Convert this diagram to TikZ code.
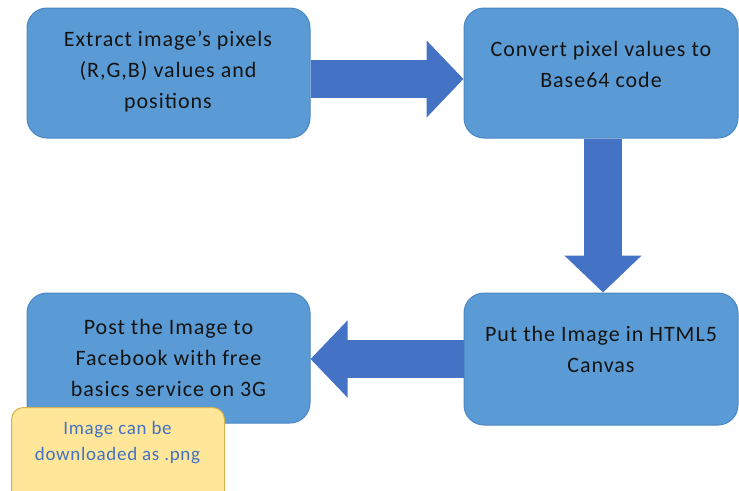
\documentclass[tikz,border=0pt]{standalone}
\usepackage{fontspec}
\setmainfont{Carlito}
\newfontfamily\boxfont[LetterSpace=4.5]{Carlito}
\newfontfamily\notefont[LetterSpace=3.5]{Carlito}
\usetikzlibrary{arrows.meta}
\definecolor{boxblue}{HTML}{5B9BD5}
\definecolor{boxedge}{HTML}{4A87C4}
\definecolor{arrowblue}{HTML}{4472C4}
\definecolor{notefill}{HTML}{FFE699}
\definecolor{noteedge}{HTML}{D6B24C}
\definecolor{notetext}{HTML}{4472C4}
\definecolor{txtcol}{HTML}{141414}
\begin{document}
\begin{tikzpicture}[x=1pt,y=-1pt,
  box/.style={draw=boxedge, fill=boxblue, line width=1pt, rounded corners=20pt, inner sep=0pt},
  boxtext/.style={align=center, text=txtcol, font=\boxfont\fontsize{22}{31}\selectfont, inner sep=0pt},
  note/.style={draw=noteedge, fill=notefill, line width=1pt, rounded corners=12pt, inner sep=0pt},
  notetxt/.style={align=center, text=notetext, font=\notefont\fontsize{19}{26}\selectfont, inner sep=0pt},
  bigarrow/.style={draw=arrowblue, line width=38pt, -{Triangle[length=37pt,width=75pt]}}
]
\useasboundingbox (0,0) rectangle (739,490);
\clip (0,0) rectangle (739,490);
\node[box, minimum width=283pt, minimum height=130pt] (b1) at (168.5,73) {};
\node[box, minimum width=274pt, minimum height=130pt] (b2) at (601,73) {};
\node[box, minimum width=274pt, minimum height=132pt] (b3) at (601,359) {};
\node[box, minimum width=283pt, minimum height=130pt] (b4) at (168.5,358) {};
\node[boxtext] (t1) at (168,71.5) {Extract image’s pixels\\(R,G,B) values and\\positions};
\node[boxtext] (t2) at (601,64.5) {Convert pixel values to\\Base64 code};
\node[boxtext] (t3) at (601,349) {Put the Image in HTML5\\Canvas};
\node[boxtext] (t4) at (168.5,357.5) {Post the Image to\\Facebook with free\\basics service on 3G};
\draw[bigarrow] ([yshift=-6pt]b1.east) -- ([yshift=-6pt]b2.west);
\draw[bigarrow] ([xshift=2pt]b2.south) -- ([xshift=2pt]b3.north);
\draw[bigarrow] (b3.west) -- (b3.west -| b4.east);
\node[note, minimum width=213pt, minimum height=100pt, anchor=north west] (n) at (11,407) {};
\node[notetxt] (nt) at (117.5,443) {Image can be\\downloaded as .png};
\end{tikzpicture}
\end{document}
